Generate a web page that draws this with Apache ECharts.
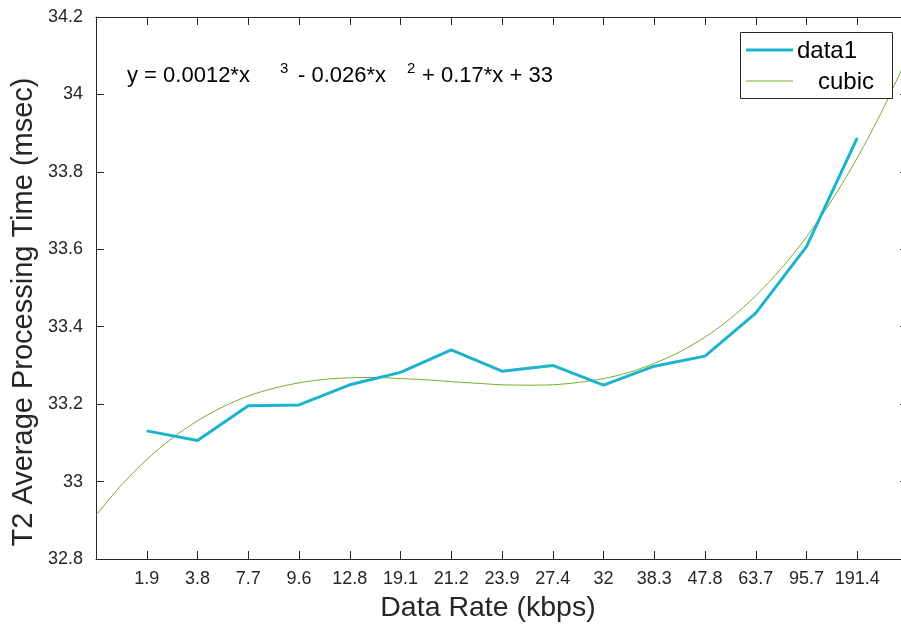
<!DOCTYPE html>
<html>
<head>
<meta charset="utf-8">
<title>T2 Average Processing Time vs Data Rate</title>
<script src="https://cdn.jsdelivr.net/npm/echarts@6/dist/echarts.min.js"></script>
<style>
  html, body { margin: 0; padding: 0; background: #ffffff; overflow: hidden; width: 901px; height: 627px; }
  #chart { width: 912px; height: 627px; }
</style>
</head>
<body>
<div id="chart"></div>
<script>
// Data rate categories (kbps), plotted at positions 1..15
const rateLabels = ['1.9', '3.8', '7.7', '9.6', '12.8', '19.1', '21.2', '23.9', '27.4', '32', '38.3', '47.8', '63.7', '95.7', '191.4'];

// Measured average processing time (msec)
const data1Values = [33.131, 33.106, 33.196, 33.198, 33.250, 33.282, 33.340, 33.285, 33.300, 33.249, 33.298, 33.324, 33.435, 33.607, 33.888];

// Cubic fit curve sampled every half step from 0 to 16
const cubicPositions = [0, 0.5, 1, 1.5, 2, 2.5, 3, 3.5, 4, 4.5, 5, 5.5, 6, 6.5, 7, 7.5, 8,
                        8.5, 9, 9.5, 10, 10.5, 11, 11.5, 12, 12.5, 13, 13.5, 14, 14.5, 15, 15.5, 16];
const cubicValues = [32.913, 32.991, 33.057, 33.112, 33.157, 33.193, 33.221, 33.241, 33.255, 33.264, 33.268, 33.269, 33.266, 33.263, 33.258, 33.254, 33.250,
                     33.249, 33.250, 33.256, 33.266, 33.282, 33.305, 33.335, 33.373, 33.421, 33.480, 33.550, 33.632, 33.727, 33.836, 33.960, 34.100];

const seriesNames = ['data1', 'cubic'];
const fitEquation = ['y = 0.0012*x', '3', '- 0.026*x', '2', '+ 0.17*x + 33'];

const yTitle = 'T2 Average Processing Time (msec)';
const xTitle = 'Data Rate (kbps)';

const FONT = "'Liberation Sans', Arial, Helvetica, sans-serif";
const INK = '#262626';
const CYAN = '#1cb4cc';
const GREEN = '#77ac30';

const data1Points = data1Values.map((v, i) => [i + 1, v]);
const cubicPoints = cubicPositions.map((p, i) => [p, cubicValues[i]]);

const xLabel = v => {
  const idx = Math.round(v) - 1;
  return (idx >= 0 && idx < rateLabels.length) ? rateLabels[idx] : '';
};
const yLabel = v => String(parseFloat(v.toFixed(1)));

const axisLine = { show: true, onZero: false, lineStyle: { color: INK, width: 1 } };
const tickInside = { show: true, inside: true, length: 8, lineStyle: { color: INK, width: 1 } };

const chart = echarts.init(document.getElementById('chart'), null, { renderer: 'canvas' });

chart.setOption({
  backgroundColor: '#ffffff',
  animation: false,
  grid: { left: 96, top: 17, right: 4, bottom: 68, containLabel: false },
  xAxis: [
    {
      type: 'value', position: 'bottom', min: 0, max: 16, interval: 1,
      axisLine: axisLine, axisTick: tickInside, splitLine: { show: false },
      axisLabel: { formatter: xLabel, color: INK, fontFamily: FONT, fontSize: 18, margin: 11, showMinLabel: true, showMaxLabel: true }
    },
    {
      type: 'value', position: 'top', min: 0, max: 16, interval: 1,
      axisLine: axisLine, axisTick: tickInside, splitLine: { show: false },
      axisLabel: { show: false }
    }
  ],
  yAxis: [
    {
      type: 'value', position: 'left', min: 32.8, max: 34.2, interval: 0.2,
      axisLine: axisLine, axisTick: tickInside, splitLine: { show: false },
      axisLabel: { formatter: yLabel, color: INK, fontFamily: FONT, fontSize: 18, margin: 13 }
    },
    {
      type: 'value', position: 'right', min: 32.8, max: 34.2, interval: 0.2,
      axisLine: axisLine, axisTick: tickInside, splitLine: { show: false },
      axisLabel: { show: false }
    }
  ],
  series: [
    {
      name: seriesNames[1], type: 'line', data: cubicPoints, smooth: 0.3,
      showSymbol: false, symbol: 'none', clip: true,
      lineStyle: { color: GREEN, width: 1 }, z: 2
    },
    {
      name: seriesNames[0], type: 'line', data: data1Points, smooth: false,
      showSymbol: false, symbol: 'none', clip: true,
      lineStyle: { color: CYAN, width: 3 }, z: 3
    }
  ],
  graphic: [
    // axis titles
    {
      type: 'text', x: 488, y: 608,
      style: { text: xTitle, font: '28.5px ' + FONT, fill: INK, align: 'center', verticalAlign: 'middle' }
    },
    {
      type: 'text', x: 24, y: 312, rotation: Math.PI / 2,
      style: { text: yTitle, font: '29px ' + FONT, fill: INK, align: 'center', verticalAlign: 'middle' }
    },
    // fit equation with superscript exponents
    { type: 'text', x: 127, y: 76, style: { text: fitEquation[0], font: '22px ' + FONT, fill: '#000', verticalAlign: 'middle' } },
    { type: 'text', x: 280, y: 69, style: { text: fitEquation[1], font: '15px ' + FONT, fill: '#000', verticalAlign: 'middle' } },
    { type: 'text', x: 298, y: 76, style: { text: fitEquation[2], font: '22px ' + FONT, fill: '#000', verticalAlign: 'middle' } },
    { type: 'text', x: 407, y: 69, style: { text: fitEquation[3], font: '15px ' + FONT, fill: '#000', verticalAlign: 'middle' } },
    { type: 'text', x: 422, y: 76, style: { text: fitEquation[4], font: '22px ' + FONT, fill: '#000', verticalAlign: 'middle' } },
    // legend box
    {
      type: 'rect', z: 10,
      shape: { x: 740.5, y: 32.5, width: 152, height: 66 },
      style: { fill: '#ffffff', stroke: INK, lineWidth: 1 }
    },
    { type: 'line', z: 11, shape: { x1: 746, y1: 50, x2: 793, y2: 50 }, style: { stroke: CYAN, lineWidth: 3 } },
    { type: 'line', z: 11, shape: { x1: 746, y1: 81, x2: 793, y2: 81 }, style: { stroke: GREEN, lineWidth: 1 } },
    { type: 'text', z: 11, x: 797, y: 51, style: { text: seriesNames[0], font: '24px ' + FONT, fill: '#000', verticalAlign: 'middle' } },
    { type: 'text', z: 11, x: 818, y: 82, style: { text: seriesNames[1], font: '24px ' + FONT, fill: '#000', verticalAlign: 'middle' } }
  ]
});
</script>
</body>
</html>
